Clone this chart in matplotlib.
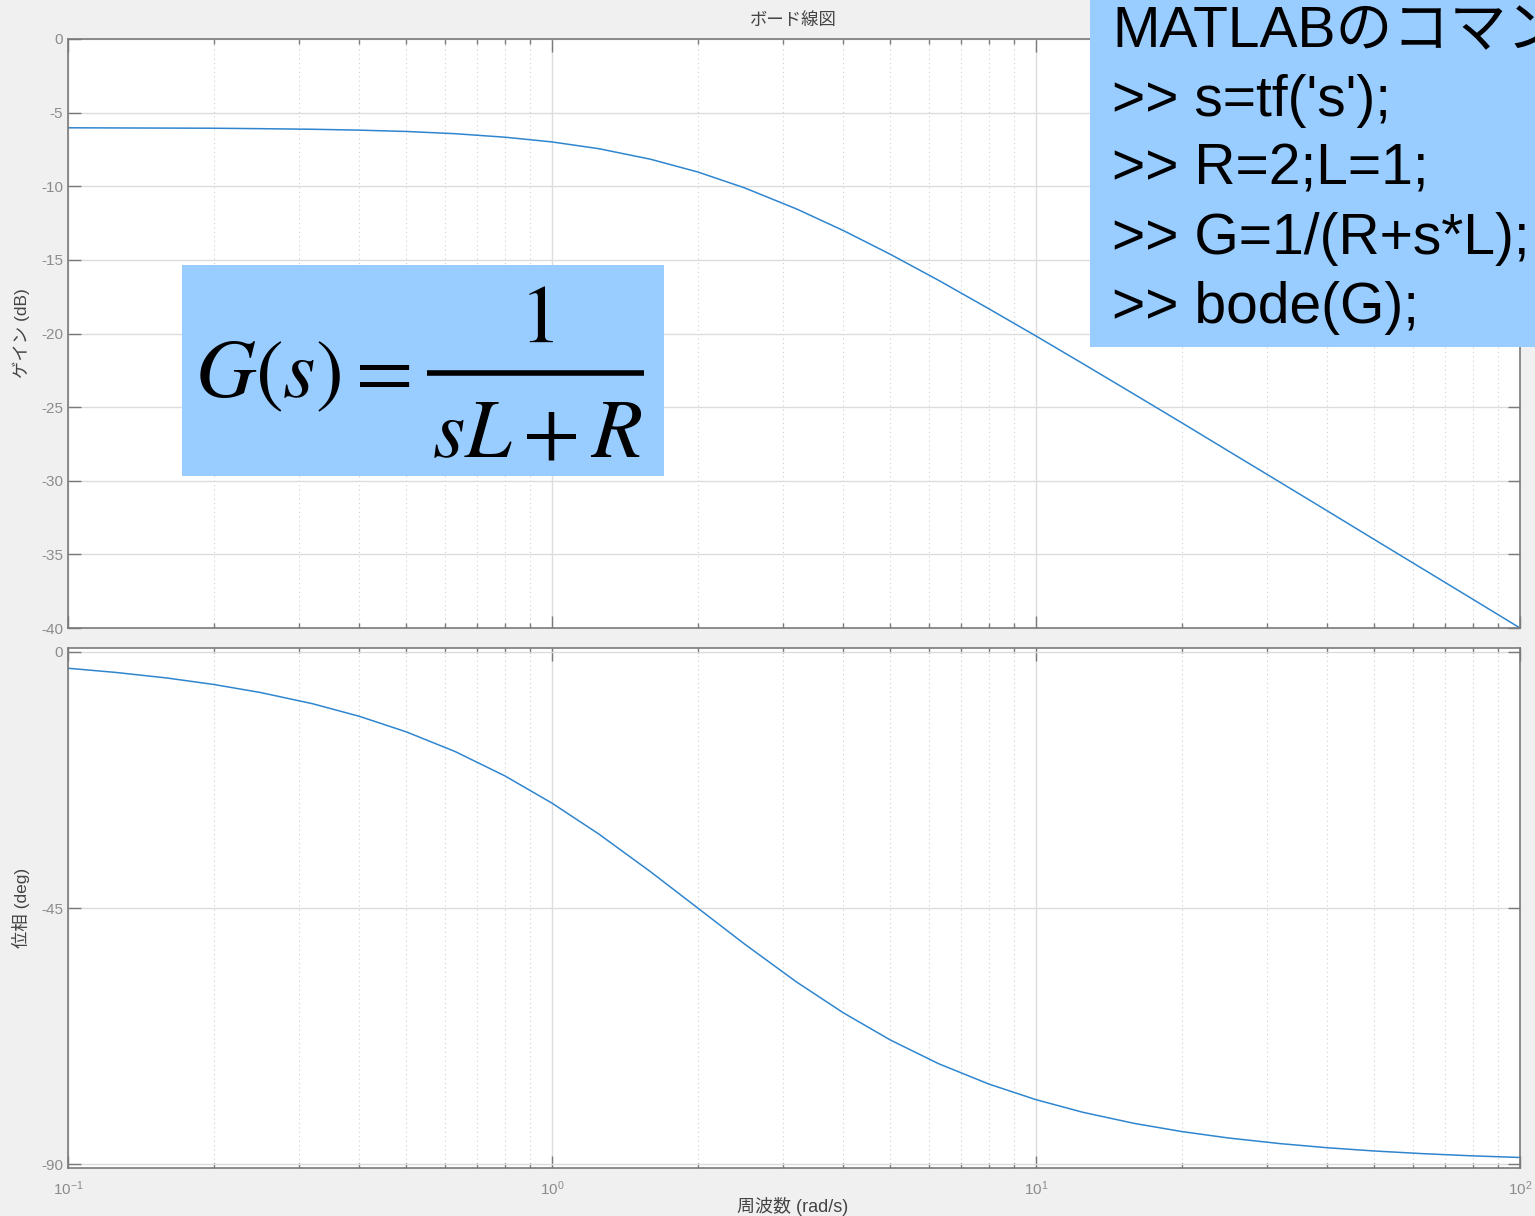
import matplotlib.pyplot as plt
from matplotlib.patches import Rectangle
from matplotlib.lines import Line2D
from matplotlib.ticker import LogLocator, NullFormatter

plt.rcParams['font.family'] = ['Liberation Sans', 'Noto Sans CJK JP', 'DejaVu Sans']

# 周波数 (rad/s) と読み取ったゲイン・位相
freq = [0.1, 0.125, 0.16, 0.2, 0.25, 0.32, 0.4, 0.5, 0.63, 0.8,
        1, 1.25, 1.6, 2, 2.5, 3.2, 4, 5, 6.3, 8,
        10, 12.5, 16, 20, 25, 32, 40, 50, 63, 80, 100]
gain_db = [-6.03, -6.04, -6.05, -6.06, -6.09, -6.13, -6.19, -6.28, -6.43, -6.67,
           -6.99, -7.45, -8.17, -9.03, -10.11, -11.54, -13.01, -14.62, -16.40, -18.33,
           -20.17, -22.05, -24.15, -26.06, -27.99, -30.12, -32.05, -33.99, -35.99, -38.06,
           -40.00]
phase_deg = [-2.86, -3.58, -4.57, -5.71, -7.13, -9.09, -11.31, -14.04, -17.48, -21.80,
             -26.57, -32.01, -38.66, -45.00, -51.34, -58.00, -63.43, -68.20, -72.39, -75.96,
             -78.69, -80.91, -82.88, -84.29, -85.43, -86.42, -87.14, -87.71, -88.18, -88.57,
             -88.85]

gain_ticks = [0, -5, -10, -15, -20, -25, -30, -35, -40]
phase_ticks = [0, -45, -90]

code_lines = ["MATLABのコマンド", ">> s=tf('s');", ">> R=2;L=1;", ">> G=1/(R+s*L);", ">> bode(G);"]

line_color = '#2f86cf'
spine_color = '#7a7a7a'
label_color = '#8c8c8c'
text_color = '#444444'
box_color = '#99ccff'

W, H = 1535, 1216
fig = plt.figure(figsize=(W / 100, H / 100), dpi=100, facecolor='#f0f0f0')


def px_axes(left, top, right, bottom):
    return [left / W, 1 - bottom / H, (right - left) / W, (bottom - top) / H]


def fx(x):
    return x / W


def fy(y):
    return 1 - y / H


ax1 = fig.add_axes(px_axes(68, 39, 1520, 628))
ax2 = fig.add_axes(px_axes(68, 648, 1520, 1168))


def style(ax):
    ax.set_xscale('log')
    ax.set_xlim(0.1, 100)
    ax.xaxis.set_major_locator(LogLocator(base=10))
    ax.xaxis.set_minor_locator(LogLocator(base=10, subs=range(2, 10)))
    ax.xaxis.set_minor_formatter(NullFormatter())
    for s in ax.spines.values():
        s.set_color(spine_color)
        s.set_linewidth(1.2)
    ax.tick_params(which='both', direction='in', top=True, right=True,
                   colors=spine_color, labelcolor=label_color, labelsize=11)
    ax.tick_params(which='major', length=9, width=1)
    ax.tick_params(which='minor', length=3.6, width=1)
    ax.tick_params(axis='x', pad=8)
    ax.grid(True, which='major', color='#dcdcdc', linewidth=1)
    ax.grid(True, which='minor', axis='x', color='#cfcfcf', linestyle=(0, (1, 3)), linewidth=0.8)
    ax.set_axisbelow(True)


style(ax1)
style(ax2)

ax1.plot(freq, gain_db, color=line_color, linewidth=1.1)
ax1.set_ylim(-40, 0)
ax1.set_yticks(gain_ticks)
ax1.set_yticklabels([str(t) for t in gain_ticks])
ax1.tick_params(axis='x', labelbottom=False)
ax1.set_ylabel('ゲイン (dB)', fontsize=12.5, color=text_color)
ax1.yaxis.set_label_coords(-0.026, 0.5)

ax2.plot(freq, phase_deg, color=line_color, linewidth=1.1)
ax2.set_ylim(-90.7, 0.7)
ax2.set_yticks(phase_ticks)
ax2.set_yticklabels([str(t) for t in phase_ticks])
ax2.set_ylabel('位相 (deg)', fontsize=12.5, color=text_color)
ax2.yaxis.set_label_coords(-0.026, 0.5)
ax2.set_xlabel('周波数 (rad/s)', fontsize=13, color=text_color)
ax2.xaxis.set_label_coords(0.499, -0.055)

fig.text(fx(793), fy(20), 'ボード線図', ha='center', va='center', fontsize=12.5, color=text_color)

# 伝達関数の箱
fig.patches.append(Rectangle((fx(182), fy(476)), (664 - 182) / W, (476 - 265) / H,
                             transform=fig.transFigure, facecolor=box_color, edgecolor='none', zorder=5))
fig.text(fx(195), fy(397), r'$G(s)=$', ha='left', va='baseline',
         fontsize=60, math_fontfamily='stix', color='black', zorder=6)
fig.lines.append(Line2D([fx(427), fx(644)], [fy(373), fy(373)], transform=fig.transFigure,
                        color='black', linewidth=4, solid_capstyle='butt', zorder=6))
fig.text(fx(536), fy(342), r'$1$', ha='center', va='baseline',
         fontsize=60, math_fontfamily='stix', color='black', zorder=6)
fig.text(fx(538), fy(457), r'$sL+R$', ha='center', va='baseline',
         fontsize=60, math_fontfamily='stix', color='black', zorder=6)

# MATLAB コマンドの箱
fig.patches.append(Rectangle((fx(1090), fy(347)), (W - 1090) / W + 0.01, 347 / H + 0.01,
                             transform=fig.transFigure, facecolor=box_color, edgecolor='none', zorder=5))
for i, line in enumerate(code_lines):
    fig.text(fx(1112), fy(47 + 69 * i), line, ha='left', va='baseline',
             fontsize=41, color='black', zorder=6,
             family=['Liberation Sans', 'Noto Sans CJK JP'])

fig.savefig('out.png', dpi=100, facecolor=fig.get_facecolor())
